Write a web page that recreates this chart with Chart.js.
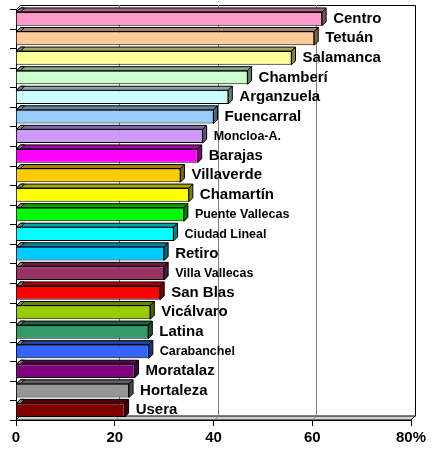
<!DOCTYPE html>
<html>
<head>
<meta charset="utf-8">
<script src="https://cdn.jsdelivr.net/npm/chart.js@4"></script>
<style>
html,body{margin:0;padding:0;background:#fff;}
#wrap{width:435px;height:450px;position:relative;}
</style>
</head>
<body>
<div id="wrap"><canvas id="c" width="435" height="450"></canvas></div>
<script>
const categories = ["Centro","Tetuán","Salamanca","Chamberí","Arganzuela","Fuencarral","Moncloa-A.","Barajas","Villaverde","Chamartín","Puente Vallecas","Ciudad Lineal","Retiro","Villa Vallecas","San Blas","Vicálvaro","Latina","Carabanchel","Moratalaz","Hortaleza","Usera"];
const values = [62, 60.4, 55.8, 46.9, 43, 40, 37.8, 36.8, 33.3, 35, 34, 31.9, 30, 30, 29.2, 27.2, 26.8, 26.9, 24, 22.9, 22];
const barColors = ["#FF99CC","#FFCC99","#FFFF99","#CCFFCC","#CCFFFF","#99CCFF","#CC99FF","#FF00FF","#FFCC00","#FFFF00","#00FF00","#00FFFF","#00CCFF","#993366","#FF0000","#99CC00","#339966","#3366FF","#800080","#969696","#800000"];
const smallLabels = ["Moncloa-A.","Puente Vallecas","Ciudad Lineal","Villa Vallecas","Carabanchel"];
const tickValues = [0, 20, 40, 60, 80];

const DX = 4, DY = 4;

function shade(hex, f) {
  const n = parseInt(hex.slice(1), 16);
  const r = Math.round(((n >> 16) & 255) * f);
  const g = Math.round(((n >> 8) & 255) * f);
  const b = Math.round((n & 255) * f);
  return `rgb(${r},${g},${b})`;
}

function poly(ctx, pts, fill, stroke) {
  ctx.beginPath();
  ctx.moveTo(pts[0][0], pts[0][1]);
  for (let i = 1; i < pts.length; i++) ctx.lineTo(pts[i][0], pts[i][1]);
  ctx.closePath();
  if (fill) { ctx.fillStyle = fill; ctx.fill(); }
  if (stroke) { ctx.strokeStyle = stroke; ctx.lineWidth = 1; ctx.stroke(); }
}

const wallPlugin = {
  id: 'wall3d',
  beforeDatasetsDraw(chart) {
    const ctx = chart.ctx;
    const a = chart.chartArea;
    const xs = chart.scales.x;
    ctx.save();
    ctx.lineWidth = 1;
    // floor
    poly(ctx, [[a.left, a.bottom], [a.right, a.bottom], [a.right + DX, a.bottom - DY], [a.left + DX, a.bottom - DY]], '#d0d0d0', '#000');
    // back wall border
    ctx.strokeStyle = '#000';
    ctx.beginPath();
    ctx.moveTo(a.left + DX + 0.5, a.top - DY + 0.5);
    ctx.lineTo(a.right + DX + 0.5, a.top - DY + 0.5);
    ctx.lineTo(a.right + DX + 0.5, a.bottom - DY + 0.5);
    ctx.stroke();
    ctx.beginPath();
    ctx.moveTo(a.left + 0.5, a.top + 0.5);
    ctx.lineTo(a.left + DX + 0.5, a.top - DY + 0.5);
    ctx.stroke();
    // gridlines on back wall
    ctx.strokeStyle = '#808080';
    tickValues.forEach(v => {
      if (v === 0 || v === 80) return;
      const px = Math.round(xs.getPixelForValue(v)) + DX + 0.5;
      ctx.beginPath();
      ctx.moveTo(px, a.top - DY);
      ctx.lineTo(px, a.bottom - DY);
      ctx.stroke();
      ctx.beginPath();
      ctx.moveTo(px, a.bottom - DY);
      ctx.lineTo(px - DX, a.bottom);
      ctx.stroke();
    });
    // left axis line and tick marks
    ctx.strokeStyle = '#000';
    ctx.beginPath();
    ctx.moveTo(a.left + 0.5, a.top);
    ctx.lineTo(a.left + 0.5, a.bottom);
    ctx.stroke();
    const band = (a.bottom - a.top) / categories.length;
    for (let i = 0; i <= categories.length; i++) {
      const y = Math.round(a.top + i * band) + 0.5;
      ctx.beginPath();
      ctx.moveTo(a.left - 6, y);
      ctx.lineTo(a.left, y);
      ctx.stroke();
    }
    ctx.restore();
  },
  afterDatasetsDraw(chart) {
    const ctx = chart.ctx;
    const meta = chart.getDatasetMeta(0);
    ctx.save();
    meta.data.forEach((el, i) => {
      const p = el.getProps(['x', 'y', 'base', 'height'], true);
      const top = p.y - p.height / 2, bot = p.y + p.height / 2;
      const c = barColors[i];
      poly(ctx, [[p.base, top], [p.x, top], [p.x + DX, top - DY], [p.base + DX, top - DY]], shade(c, 0.65), '#000');
      poly(ctx, [[p.base, top], [p.base + 4, top], [p.base + 4 + DX, top - DY], [p.base + DX, top - DY]], '#808080', '#000');
      poly(ctx, [[p.x, top], [p.x + DX, top - DY], [p.x + DX, bot - DY], [p.x, bot]], shade(c, 0.5), '#000');
      const small = smallLabels.includes(categories[i]);
      ctx.font = small ? 'bold 12.5px "Liberation Sans", Arial, sans-serif' : 'bold 15px "Liberation Sans", Arial, sans-serif';
      ctx.fillStyle = '#000';
      ctx.textAlign = 'left';
      ctx.textBaseline = 'middle';
      ctx.fillText(categories[i], p.x + 11, p.y);
    });
    ctx.restore();
  }
};

new Chart(document.getElementById('c'), {
  type: 'bar',
  data: {
    labels: categories,
    datasets: [{
      data: values,
      backgroundColor: barColors,
      borderColor: '#000',
      borderWidth: 1,
      barPercentage: 0.7,
      categoryPercentage: 1.0
    }]
  },
  options: {
    indexAxis: 'y',
    responsive: false,
    animation: false,
    devicePixelRatio: 1,
    layout: { padding: { left: 16, right: 24, top: 9, bottom: 0 } },
    plugins: { legend: { display: false }, tooltip: { enabled: false } },
    scales: {
      x: {
        min: 0, max: 80,
        afterFit(s) { s.height = 30; },
        afterBuildTicks(s) { s.ticks = tickValues.map(v => ({ value: v })); },
        ticks: {
          color: '#000',
          padding: 3,
          font: { family: '"Liberation Sans", Arial, sans-serif', size: 15, weight: 'bold' },
          callback: (v) => v === 80 ? '80%' : String(v),
          maxRotation: 0
        },
        grid: { drawOnChartArea: false, drawTicks: true, tickLength: 6, color: '#000' },
        border: { display: true, color: '#000' }
      },
      y: {
        display: false,
        offset: true
      }
    }
  },
  plugins: [wallPlugin]
});
</script>
</body>
</html>
